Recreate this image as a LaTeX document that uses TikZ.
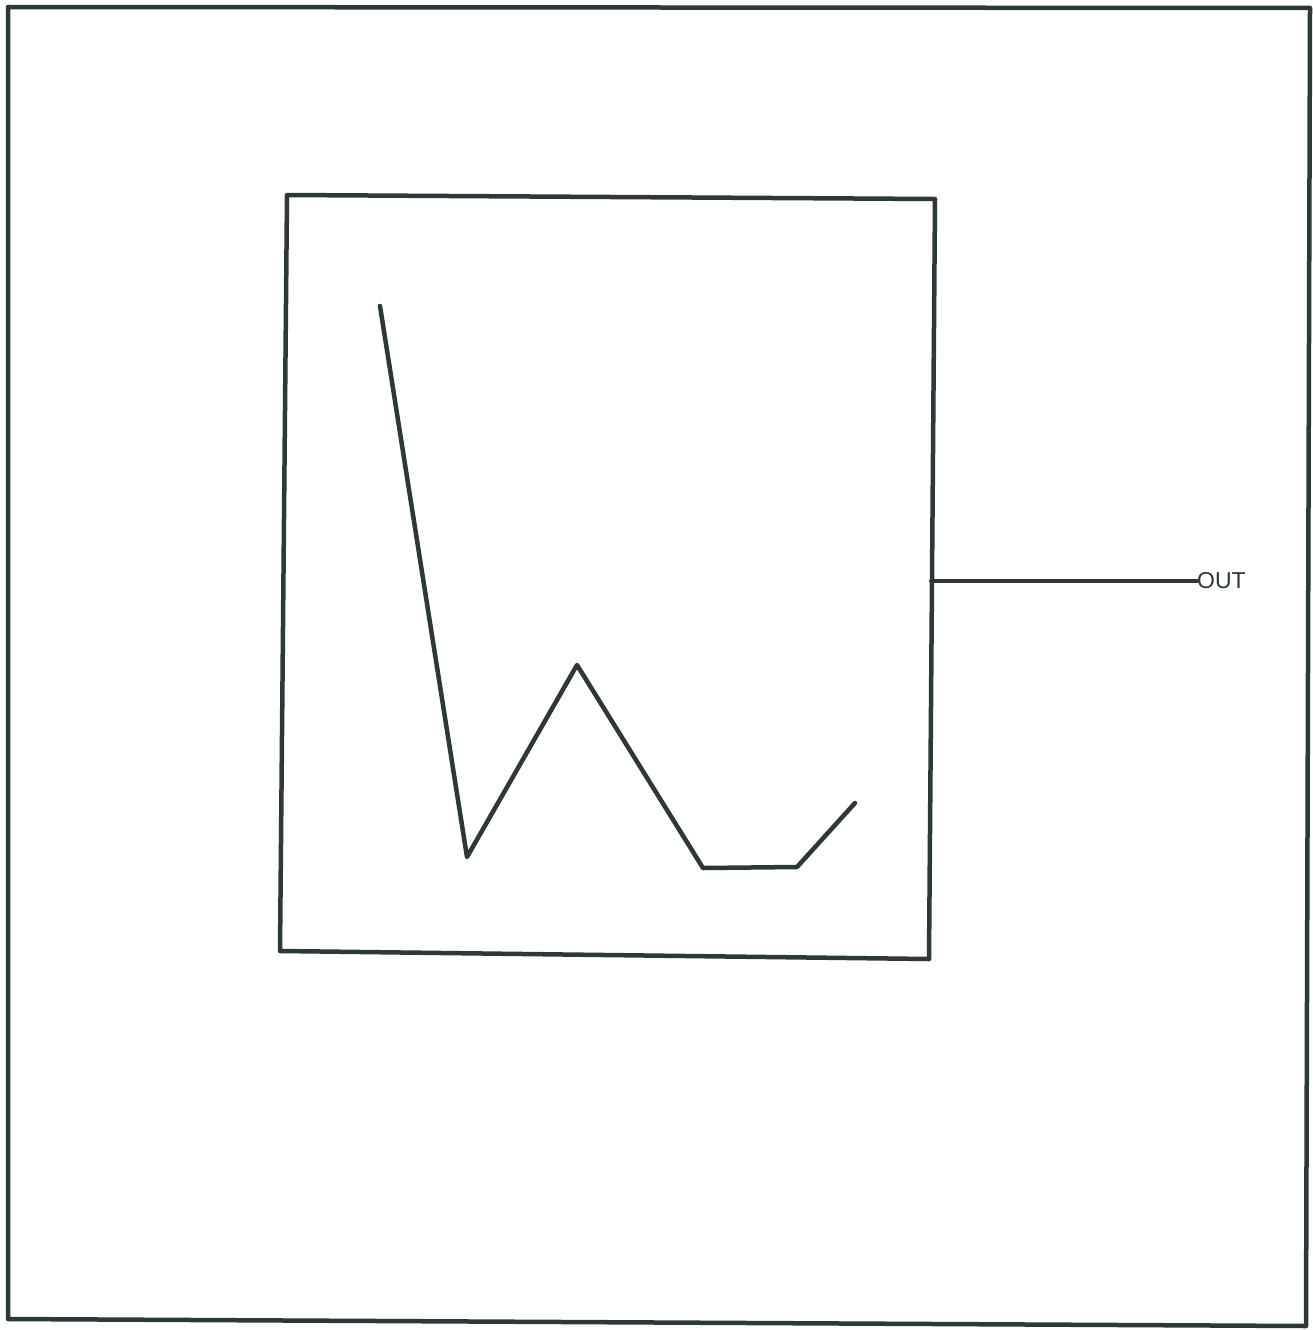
\documentclass[tikz,border=0pt]{standalone}
\usepackage{fontspec}
\setmainfont{Liberation Sans}
\definecolor{ink}{HTML}{2E3834}
\begin{document}
\begin{tikzpicture}[x=1pt,y=-1pt,
  wire/.style={draw=ink,line width=4.5pt,line join=round,line cap=round},
  thinwire/.style={draw=ink,line width=3.8pt,line cap=round},
  lbl/.style={text=ink,font=\fontsize{23}{23}\selectfont,inner sep=0pt,anchor=west}]
\useasboundingbox (0,0) rectangle (1313,1330);
\fill[white] (0,0) rectangle (1313,1330);
% outer frame corners
\coordinate (o1) at (8,7);
\coordinate (o2) at (1310,8);
\coordinate (o3) at (1306,1326);
\coordinate (o4) at (8,1319);
\draw[wire] (o1) -- (o2) -- (o3) -- (o4) -- cycle;
% inner box corners
\coordinate (b1) at (287,195);
\coordinate (b2) at (935,199);
\coordinate (b3) at (929,959);
\coordinate (b4) at (280,951);
\draw[wire] (b1) -- (b2) -- (b3) -- (b4) -- cycle;
% waveform
\coordinate (p1) at (380,306);
\coordinate (p2) at (467,857);
\coordinate (p3) at (577,665);
\coordinate (p4) at (703,868);
\coordinate (p5) at (797,867);
\coordinate (p6) at (855,803);
\draw[wire] (p1) -- (p2) -- (p3) -- (p4) -- (p5) -- (p6);
% output
\coordinate (pin) at (931,581);
\node[lbl] (out) at (1197,581) {OUT};
\draw[thinwire] (pin) -- (out.west);
\end{tikzpicture}
\end{document}
